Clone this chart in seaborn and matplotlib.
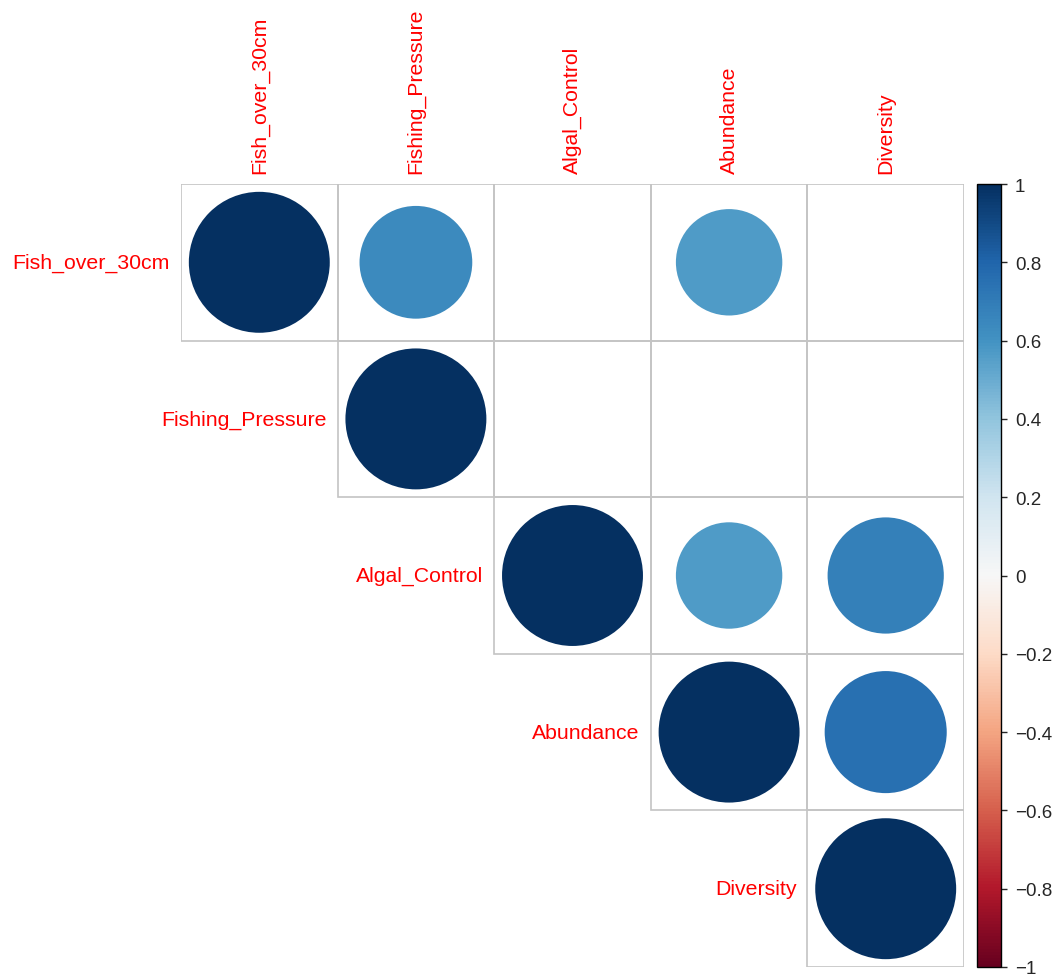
import numpy as np
import matplotlib
matplotlib.use("Agg")
import matplotlib.pyplot as plt
import seaborn as sns
from matplotlib.patches import Circle, Rectangle
from matplotlib.colors import Normalize
from matplotlib.cm import ScalarMappable

labels = ["Fish_over_30cm", "Fishing_Pressure", "Algal_Control", "Abundance", "Diversity"]
row_fish = [1.00, 0.64, np.nan, 0.57, np.nan]
row_fishing = [np.nan, 1.00, np.nan, np.nan, np.nan]
row_algal = [np.nan, np.nan, 1.00, 0.57, 0.68]
row_abund = [np.nan, np.nan, np.nan, 1.00, 0.75]
row_div = [np.nan, np.nan, np.nan, np.nan, 1.00]
cbar_ticks = [-1, -0.8, -0.6, -0.4, -0.2, 0, 0.2, 0.4, 0.6, 0.8, 1]

corr = np.array([row_fish, row_fishing, row_algal, row_abund, row_div])
n = len(labels)

sns.set_style("white")
plt.rcParams["font.family"] = ["Liberation Sans", "DejaVu Sans"]

W, H = 1054, 978
fig = plt.figure(figsize=(W / 100, H / 100), dpi=100)
gl, gt, gsize = 181, 185, 783
ax = fig.add_axes([gl / W, (H - gt - gsize) / H, gsize / W, gsize / H])

# white upper-triangle cells
lower_mask = np.tril(np.ones((n, n), dtype=bool), k=-1)
sns.heatmap(np.zeros((n, n)), mask=lower_mask, cmap=["white"], cbar=False,
            linewidths=0, ax=ax, xticklabels=False, yticklabels=False)
for i in range(n):
    for j in range(i, n):
        ax.add_patch(Rectangle((j, i), 1, 1, facecolor="none",
                               edgecolor="#C4C4C4", lw=1.2, zorder=2))

cmap = plt.get_cmap("RdBu")
norm = Normalize(-1, 1)
for i in range(n):
    for j in range(n):
        v = corr[i, j]
        if np.isnan(v):
            continue
        r = 0.45 * np.sqrt(abs(v))
        ax.add_patch(Circle((j + 0.5, i + 0.5), r, facecolor=cmap(norm(v)),
                            edgecolor="none", zorder=3))

ax.set_xlim(0, n)
ax.set_ylim(n, 0)
for s in ax.spines.values():
    s.set_visible(False)

off = 11 / 157
for k, lab in enumerate(labels):
    ax.text(k + 0.5, -off, lab, rotation=90, ha="center", va="bottom",
            color="red", fontsize=15.3, clip_on=False)
    ax.text(k - off, k + 0.5, lab, ha="right", va="center",
            color="red", fontsize=15.3, clip_on=False)

# colorbar
cl, cw = 977, 24
cax = fig.add_axes([cl / W, (H - gt - gsize) / H, cw / W, gsize / H])
sm = ScalarMappable(norm=norm, cmap=cmap)
cb = fig.colorbar(sm, cax=cax, ticks=cbar_ticks)
cb.ax.set_yticklabels([f"{t:g}".replace("-", "\u2212") for t in cbar_ticks])
cb.ax.tick_params(labelsize=13.5, length=4, width=1, direction="out", pad=6)
cb.outline.set_linewidth(1.0)
cb.outline.set_edgecolor("black")

fig.savefig("out.png", dpi=100)
